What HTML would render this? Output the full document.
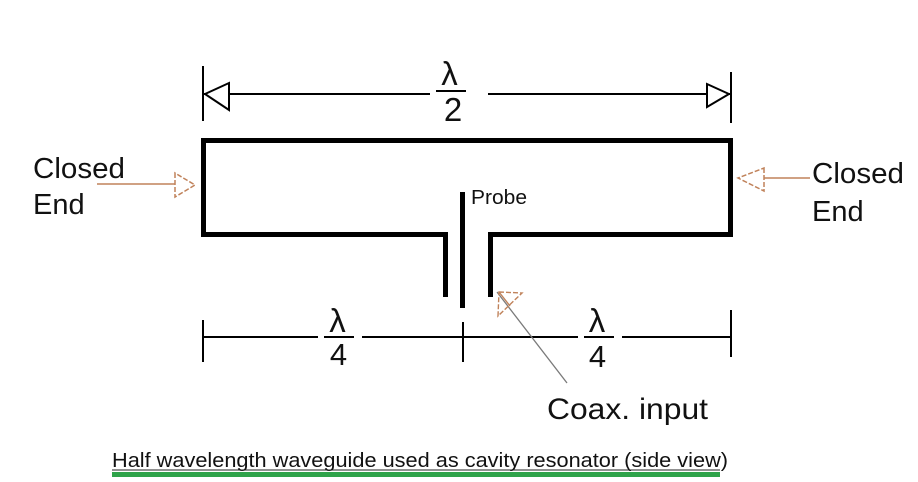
<!DOCTYPE html>
<html><head><meta charset="utf-8"><style>
html,body{margin:0;padding:0;background:#fff;}
svg{display:block;}
text{font-family:"Liberation Sans",sans-serif;fill:#111;}
</style></head><body>
<svg width="918" height="482" viewBox="0 0 918 482" xmlns="http://www.w3.org/2000/svg">
<rect width="918" height="482" fill="#fff"/>
<!-- top dimension -->
<g stroke="#000" stroke-width="2" fill="none">
<line x1="203" y1="66" x2="203" y2="121"/>
<line x1="203" y1="94" x2="430" y2="94"/>
<polygon points="205,94 229,83 229,110" fill="#fff"/>
<line x1="488" y1="94" x2="731" y2="94"/>
<line x1="731" y1="72" x2="731" y2="123"/>
<polygon points="729,94 707,84 707,107" fill="#fff"/>
<line x1="436" y1="91" x2="466" y2="91"/>
</g>
<text x="449.5" y="85" font-size="33" text-anchor="middle">λ</text>
<text x="453" y="121" font-size="33" text-anchor="middle">2</text>

<!-- cavity -->
<g stroke="#000" stroke-width="5" fill="none" stroke-linejoin="miter">
<path d="M445.5 297 L445.5 234.5 L203.5 234.5 L203.5 140.5 L730.5 140.5 L730.5 234.5 L490.5 234.5 L490.5 297"/>
</g>
<rect x="460" y="192" width="5" height="116" fill="#000"/>
<text x="471" y="204" font-size="20" textLength="56" lengthAdjust="spacingAndGlyphs">Probe</text>

<!-- closed end labels -->
<text x="33" y="178" font-size="29" textLength="92" lengthAdjust="spacingAndGlyphs">Closed</text>
<text x="33" y="214" font-size="29">End</text>
<text x="812" y="183" font-size="29" textLength="92" lengthAdjust="spacingAndGlyphs">Closed</text>
<text x="812" y="221" font-size="29">End</text>
<g stroke="#c0825a" stroke-width="1.5" fill="none">
<line x1="97" y1="184" x2="175" y2="184"/>
<polygon points="175,173 175,197 195,185" stroke-dasharray="5,2"/>
<line x1="764" y1="178" x2="810" y2="178"/>
<polygon points="764,168 764,191 738,178" stroke-dasharray="5,2"/>
</g>

<!-- bottom dimensions -->
<g stroke="#000" stroke-width="2" fill="none">
<line x1="203" y1="320" x2="203" y2="362"/>
<line x1="203" y1="337" x2="318" y2="337"/>
<line x1="324" y1="337" x2="354" y2="337"/>
<line x1="362" y1="337" x2="578" y2="337"/>
<line x1="463" y1="322" x2="463" y2="362"/>
<line x1="584" y1="337" x2="614" y2="337"/>
<line x1="622" y1="337" x2="731" y2="337"/>
<line x1="731" y1="310" x2="731" y2="357"/>
</g>
<text x="337.5" y="332" font-size="33" text-anchor="middle">λ</text>
<text x="338.5" y="365" font-size="31" text-anchor="middle">4</text>
<text x="597" y="332" font-size="33" text-anchor="middle">λ</text>
<text x="597.5" y="367" font-size="31" text-anchor="middle">4</text>

<!-- coax arrow -->
<line x1="497" y1="292" x2="567" y2="383" stroke="#7a7a7a" stroke-width="1.3"/>
<polygon points="499,292 522,293 498,316" fill="none" stroke="#c0825a" stroke-width="1.4" stroke-dasharray="5,2"/>
<line x1="499" y1="292" x2="510" y2="306" stroke="#c0825a" stroke-width="1.4"/>
<text x="547" y="419" font-size="30" textLength="161" lengthAdjust="spacingAndGlyphs">Coax. input</text>

<!-- caption -->
<text x="112" y="467" font-size="20" textLength="616" lengthAdjust="spacingAndGlyphs">Half wavelength waveguide used as cavity resonator (side view)</text>
<line x1="112" y1="470" x2="720" y2="470" stroke="#222" stroke-width="1"/>
<rect x="112" y="472" width="608" height="5" fill="#2fa34a"/>
</svg>
</body></html>
